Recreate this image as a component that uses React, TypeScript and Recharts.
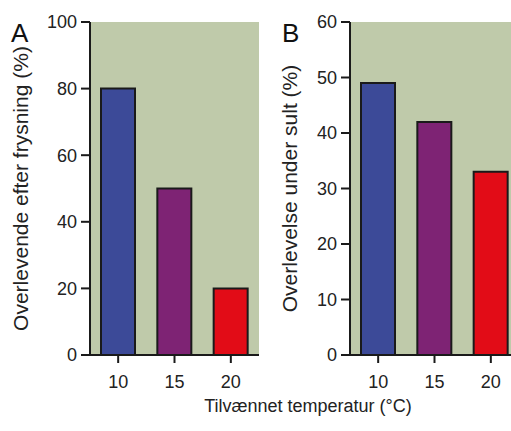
import { Bar, BarChart, CartesianGrid, Cell, Label, XAxis, YAxis } from 'recharts'

const temps = ['10', '15', '20']
const freezeSurvival = [80, 50, 20]
const starveSurvival = [49, 42, 33]
const freezeTicks = [0, 20, 40, 60, 80, 100]
const starveTicks = [0, 10, 20, 30, 40, 50, 60]
const barColors = ['#3c4a98', '#7e2374', '#e20c17']

const ink = '#1a1a1a'
const font = "'Liberation Sans', Arial, sans-serif"

function YTitle(props: any) {
  const vb = props.viewBox ?? { x: 0, y: 22, width: 90, height: 333 }
  const cx = vb.x + props.baseX
  const cy = vb.y + vb.height / 2
  return (
    <text
      x={cx}
      y={cy}
      transform={`rotate(-90 ${cx} ${cy})`}
      textAnchor='middle'
      fontSize={21}
      fill='#222'
      fontFamily={font}
    >
      {props.text}
    </text>
  )
}

function Panel(props: {
  values: number[]
  ticks: number[]
  title: string
  baseX: number
}) {
  const data = temps.map((t, i) => ({ name: t, v: props.values[i] }))
  const max = props.ticks[props.ticks.length - 1]
  return (
    <BarChart
      width={262}
      height={431}
      data={data}
      margin={{ top: 22, right: 3, left: 0, bottom: 46 }}
      barCategoryGap={0}
      style={{ fontFamily: font }}
    >
      <CartesianGrid horizontal={false} vertical={false} fill='#bfcaaa' stroke='none' />
      <XAxis
        dataKey='name'
        height={30}
        tickSize={8}
        tickMargin={12}
        tick={{ fontSize: 18, fill: '#222' }}
        tickLine={{ stroke: ink, strokeWidth: 2 }}
        axisLine={{ stroke: ink, strokeWidth: 2 }}
      />
      <XAxis
        xAxisId='top'
        dataKey='name'
        orientation='top'
        height={0}
        tick={false}
        tickLine={false}
        axisLine={{ stroke: ink, strokeWidth: 2 }}
      />
      <YAxis
        width={90}
        domain={[0, max]}
        ticks={props.ticks}
        interval={0}
        tickSize={9}
        tickMargin={4}
        tick={{ fontSize: 18, fill: '#222' }}
        tickLine={{ stroke: ink, strokeWidth: 2 }}
        axisLine={{ stroke: ink, strokeWidth: 2 }}
      >
        <Label content={(p: any) => <YTitle {...p} text={props.title} baseX={props.baseX} />} />
      </YAxis>
      <YAxis
        yAxisId='r'
        orientation='right'
        width={0}
        domain={[0, max]}
        tick={false}
        tickLine={false}
        axisLine={{ stroke: ink, strokeWidth: 2 }}
      />
      <Bar dataKey='v' barSize={34} stroke={ink} strokeWidth={2} isAnimationActive={false}>
        {data.map((d, i) => (
          <Cell key={d.name} fill={barColors[i]} />
        ))}
      </Bar>
    </BarChart>
  )
}

export default function App() {
  return (
    <div
      style={{
        position: 'absolute',
        left: 0,
        top: 0,
        width: 511,
        height: 431,
        overflow: 'hidden',
        background: '#fff',
        fontFamily: font,
      }}
    >
      <div style={{ position: 'absolute', left: 0, top: 0 }}>
        <Panel values={freezeSurvival} ticks={freezeTicks} title='Overlevende efter frysning (%)' baseX={28} />
      </div>
      <div style={{ position: 'absolute', left: 260, top: 0 }}>
        <Panel values={starveSurvival} ticks={starveTicks} title='Overlevelse under sult (%)' baseX={37} />
      </div>
      <svg
        width={511}
        height={431}
        style={{ position: 'absolute', left: 0, top: 0, pointerEvents: 'none' }}
      >
        <text x={11} y={42} fontSize={26} fill='#111' fontFamily={font}>
          A
        </text>
        <text x={282} y={42} fontSize={26} fill='#111' fontFamily={font}>
          B
        </text>
        <text x={308} y={412} fontSize={18} fill='#222' textAnchor='middle' fontFamily={font}>
          Tilvænnet temperatur (°C)
        </text>
      </svg>
    </div>
  )
}
